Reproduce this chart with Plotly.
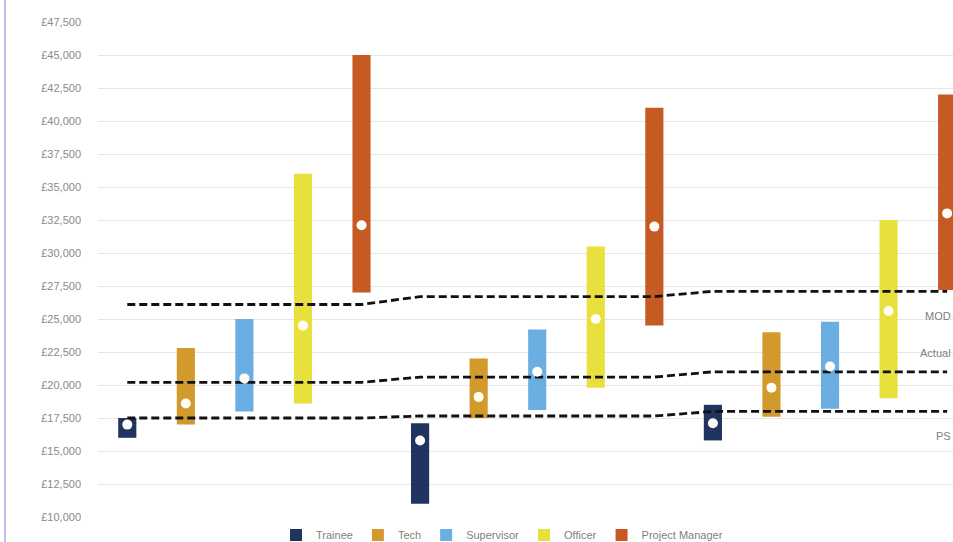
import plotly.graph_objects as go

roles = ["Trainee", "Tech", "Supervisor", "Officer", "Project Manager"]
colors = ["#1f3560", "#d29a2c", "#6aaee2", "#e8e03c", "#c55b22"]
n_groups = 3

# per role: values for the three groups
low = {
    "Trainee": [16000, 11000, 15800],
    "Tech": [17000, 17500, 17600],
    "Supervisor": [18000, 18100, 18200],
    "Officer": [18600, 19800, 19000],
    "Project Manager": [27000, 24500, 27200],
}
high = {
    "Trainee": [17500, 17100, 18500],
    "Tech": [22800, 22000, 24000],
    "Supervisor": [25000, 24200, 24800],
    "Officer": [36000, 30500, 32500],
    "Project Manager": [45000, 41000, 42000],
}
mid = {
    "Trainee": [17000, 15800, 17100],
    "Tech": [18600, 19100, 19800],
    "Supervisor": [20500, 21000, 21400],
    "Officer": [24500, 25000, 25600],
    "Project Manager": [32100, 32000, 33000],
}

# reference lines: one level per group
ref_names = ["MOD", "Actual", "PS"]
ref_levels = {
    "MOD": [26100, 26700, 27100],
    "Actual": [20200, 20600, 21000],
    "PS": [17500, 17650, 18000],
}
ref_label_y = {"MOD": 25200, "Actual": 22400, "PS": 16150}

y_ticks = list(range(10000, 47501, 2500))
y_tick_labels = ["£{:,}".format(v) for v in y_ticks]

fig = go.Figure()
n_roles = len(roles)

for i, r in enumerate(roles):
    xs = [g * n_roles + i for g in range(n_groups)]
    fig.add_trace(go.Bar(
        x=xs, y=[h - l for h, l in zip(high[r], low[r])], base=low[r],
        name=r, marker=dict(color=colors[i], line=dict(width=0)),
        width=0.31, showlegend=True,
    ))

all_x = list(range(n_groups * n_roles))
for name in ref_names:
    ys = []
    for g in range(n_groups):
        ys += [ref_levels[name][g]] * n_roles
    fig.add_trace(go.Scatter(
        x=all_x, y=ys, mode="lines", name=name, showlegend=False,
        line=dict(color="#111111", width=2.8, dash="8px,4px"),
        hoverinfo="skip",
    ))

for i, r in enumerate(roles):
    xs = [g * n_roles + i for g in range(n_groups)]
    fig.add_trace(go.Scatter(
        x=xs, y=mid[r], mode="markers", showlegend=False,
        marker=dict(color="#fffdf5", size=10, line=dict(width=0)),
    ))

# line labels at the right edge
for name in ref_names:
    fig.add_annotation(
        x=1.0, xref="paper", y=ref_label_y[name], yref="y", text=name,
        showarrow=False, xanchor="right",
        font=dict(family="Liberation Sans", size=11, color="#7f7f7f"),
    )

fig.add_shape(type="line", xref="paper", yref="paper",
              x0=(5 - 98) / 855, x1=(5 - 98) / 855, y0=0, y1=1,
              line=dict(color="#a9a9de", width=1.5))

fig.update_layout(
    width=953, height=542,
    margin=dict(l=98, r=0, t=0, b=0, autoexpand=False),
    paper_bgcolor="white", plot_bgcolor="white",
    barmode="overlay",
    font=dict(family="Liberation Sans", size=11, color="#7f7f7f"),
    xaxis=dict(range=[-0.5, 14.1], showgrid=False, zeroline=False,
               showticklabels=False, showline=False, fixedrange=True),
    yaxis=dict(range=[10000, 47500], tickvals=y_ticks, ticktext=y_tick_labels,
               domain=[25 / 542, 520 / 542],
               showgrid=True, gridcolor="#e6e6e6", gridwidth=1, zeroline=False,
               showline=False, ticklabelstandoff=16,
               tickfont=dict(size=11, color="#8a8a8a")),
    legend=dict(orientation="h", x=(502 - 98) / 855, xanchor="center",
                y=7 / 542, yanchor="middle",
                font=dict(size=11, color="#7f7f7f"), itemwidth=30,
                traceorder="normal"),
)

fig.write_html("out.html")
